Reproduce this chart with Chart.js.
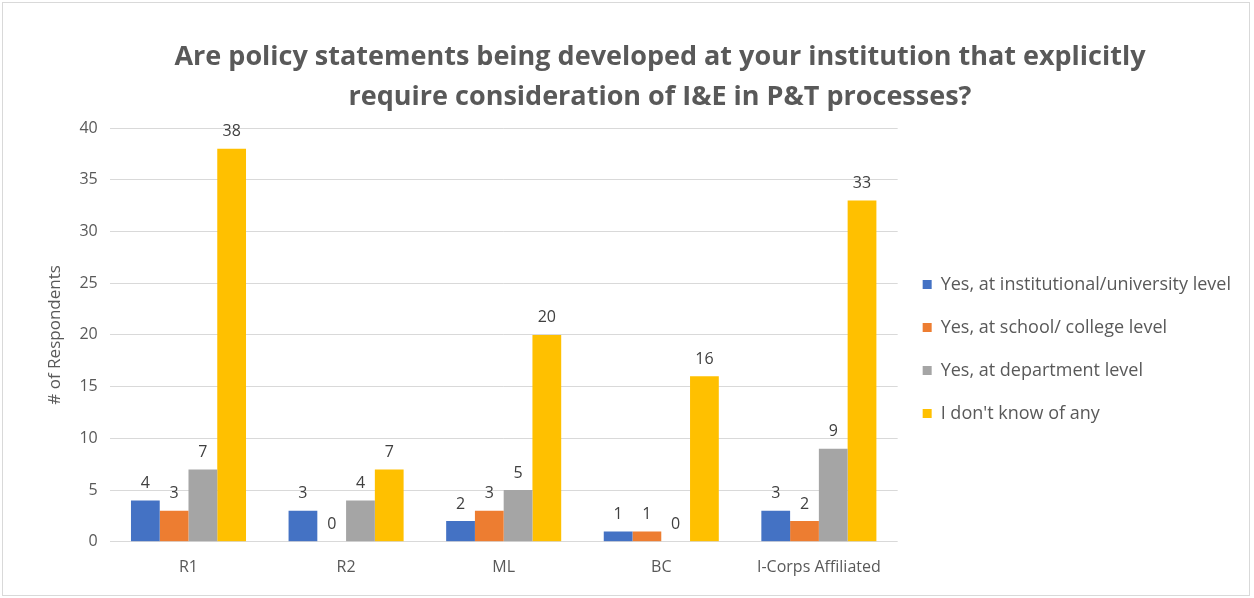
<!DOCTYPE html>
<html>
<head>
<meta charset="utf-8">
<script src="https://cdn.jsdelivr.net/npm/chart.js@4/dist/chart.umd.min.js"></script>
<style>
  html, body { margin: 0; padding: 0; background: #ffffff; }
  #frame { position: absolute; left: 2px; top: 2px; width: 1248px; height: 594px; border: 1px solid #d9d9d9; box-sizing: border-box; background: #fff; }
  canvas { display: block; }
</style>
</head>
<body>
<div id="frame"><canvas id="c" width="1246" height="592"></canvas></div>
<script>
const categories = ["R1", "R2", "ML", "BC", "I-Corps Affiliated"];
const seriesNames = [
  "Yes, at institutional/university level",
  "Yes, at school/ college level",
  "Yes, at department level",
  "I don't know of any"
];
const institutional = [4, 3, 2, 1, 3];
const school = [3, 0, 3, 1, 2];
const department = [7, 4, 5, 0, 9];
const dontKnow = [38, 7, 20, 16, 33];
const seriesColors = ["#4472c4", "#ed7d31", "#a5a5a5", "#ffc000"];
const titleLines = [
  "Are policy statements being developed at your institution that explicitly",
  "require consideration of I&E in P&T processes?"
];
const yTicks = [0, 5, 10, 15, 20, 25, 30, 35, 40];

const FONT = "'Open Sans', Lato, sans-serif";

const valueLabels = {
  id: 'valueLabels',
  afterDatasetsDraw(chart) {
    const ctx = chart.ctx;
    ctx.save();
    ctx.font = "16px " + FONT;
    ctx.fillStyle = "#404040";
    ctx.textAlign = "center";
    ctx.textBaseline = "bottom";
    chart.data.datasets.forEach((ds, i) => {
      const meta = chart.getDatasetMeta(i);
      meta.data.forEach((bar, j) => {
        ctx.fillText(String(ds.data[j]), bar.x, bar.y - 9);
      });
    });
    ctx.restore();
  }
};

const chartTitle = {
  id: 'chartTitle',
  afterDraw(chart) {
    const ctx = chart.ctx;
    ctx.save();
    ctx.font = "bold 27px " + FONT;
    ctx.fillStyle = "#595959";
    ctx.textAlign = "center";
    ctx.textBaseline = "middle";
    const cx = chart.width / 2 + 34;
    titleLines.forEach((line, i) => ctx.fillText(line, cx, 54 + i * 40));
    ctx.restore();
  }
};

new Chart(document.getElementById('c'), {
  type: 'bar',
  data: {
    labels: categories,
    datasets: [institutional, school, department, dontKnow].map((d, i) => ({
      label: seriesNames[i],
      data: d,
      backgroundColor: seriesColors[i],
      borderWidth: 0,
      categoryPercentage: 0.73,
      barPercentage: 1.0
    }))
  },
  options: {
    responsive: false,
    animation: false,
    layout: { padding: { left: 42, right: 8, top: 125, bottom: 10 } },
    plugins: {
      title: { display: false },
      legend: {
        position: 'right',
        align: 'start',
        maxWidth: 420,
        title: { display: true, text: ' ', font: { size: 2 }, padding: { top: 0, bottom: 120 } },
        labels: {
          boxWidth: 9,
          boxHeight: 9,
          padding: 25,
          color: "#595959",
          font: { family: FONT, size: 18 }
        }
      },
      tooltip: { enabled: false }
    },
    scales: {
      x: {
        grid: { display: false },
        border: { display: false },
        ticks: { color: "#595959", font: { family: FONT, size: 16 }, padding: 8 }
      },
      y: {
        min: 0,
        max: 40,
        afterBuildTicks(axis) { axis.ticks = yTicks.map(v => ({ value: v })); },
        grid: { color: "#d9d9d9", drawTicks: false, lineWidth: 1 },
        border: { display: false },
        ticks: { color: "#595959", font: { family: FONT, size: 16 }, padding: 12 },
        title: {
          display: true,
          text: "# of Respondents",
          color: "#595959",
          font: { family: FONT, size: 17 },
          padding: { top: 0, bottom: 2 }
        }
      }
    }
  },
  plugins: [valueLabels, chartTitle]
});
</script>
</body>
</html>
